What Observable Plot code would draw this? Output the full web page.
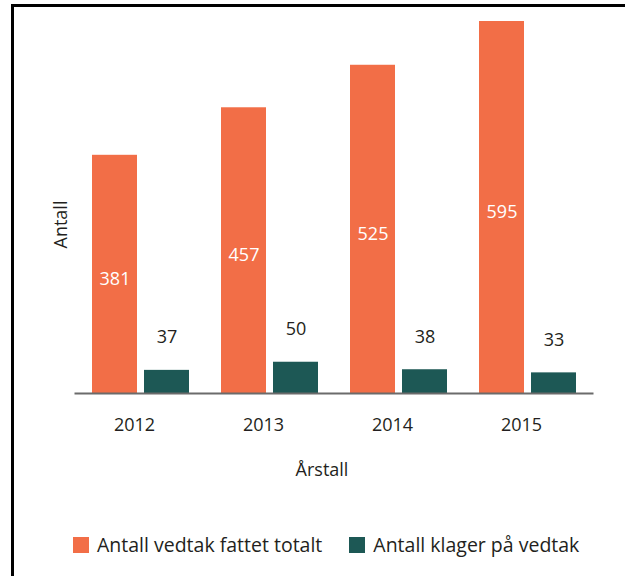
<!DOCTYPE html>
<html>
<head>
<meta charset="utf-8">
<script src="https://cdn.jsdelivr.net/npm/d3@7"></script>
<script src="https://cdn.jsdelivr.net/npm/@observablehq/plot@0.6"></script>
<style>
  html, body { margin: 0; padding: 0; background: #fff; }
  #wrap { position: relative; width: 625px; height: 576px; overflow: hidden; font-family: "Open Sans", sans-serif; color: #231f20; }
  #border { position: absolute; left: 11px; top: 4px; width: 700px; height: 700px; border-left: 3px solid #000; border-top: 3px solid #000; }
  #chart { position: absolute; left: 0; top: 0; }
  #legend { position: absolute; left: 73px; top: 531px; display: flex; align-items: center; font-size: 19.5px; }
  .item { display: flex; align-items: center; margin-right: 27px; }
  .sw { width: 16px; height: 16px; margin-right: 8px; }
</style>
</head>
<body>
<div id="wrap">
  <div id="border"></div>
  <div id="chart"></div>
  <div id="legend"></div>
</div>
<script>
const years = ["2012", "2013", "2014", "2015"];
const seriesNames = ["Antall vedtak fattet totalt", "Antall klager på vedtak"];
const totalt = [381, 457, 525, 595];
const klager = [37, 50, 38, 33];
const colors = ["#F26E47", "#1D5855"];
const xTitle = "Årstall";
const yTitle = "Antall";

const data = years.flatMap((yr, i) => [
  {year: yr, series: seriesNames[0], value: totalt[i]},
  {year: yr, series: seriesNames[1], value: klager[i]}
]);

const ink = "#231f20";

const chart = Plot.plot({
  width: 625,
  height: 500,
  marginLeft: 74,
  marginRight: 33,
  marginTop: 21,
  marginBottom: 107,
  style: {fontFamily: "Open Sans, sans-serif", fontSize: "18px", color: ink, background: "transparent"},
  fx: {domain: years, paddingInner: 0.243, paddingOuter: 0.121, label: null},
  x: {domain: seriesNames, paddingInner: 0.14, paddingOuter: 0, axis: null},
  y: {domain: [0, 595], axis: null},
  color: {domain: seriesNames, range: colors},
  marks: [
    Plot.barY(data, {fx: "year", x: "series", y: "value", fill: "series"}),
    Plot.text(data.filter(d => d.series === seriesNames[0]), {
      fx: "year", x: "series", y: d => d.value / 2, text: d => String(d.value),
      fill: "white", lineAnchor: "middle", dy: 5, fontSize: 18
    }),
    Plot.text(data.filter(d => d.series === seriesNames[1]), {
      fx: "year", x: "series", y: "value", text: d => String(d.value),
      fill: ink, lineAnchor: "middle", dy: -33, fontSize: 18
    }),
    Plot.frame({anchor: "bottom", facet: "super", stroke: "#6b6b6b", strokeWidth: 2, insetLeft: -16, insetRight: -16}),
    Plot.axisFx({anchor: "bottom", tickSize: 0, tickPadding: 25, dx: -6, label: null, fontSize: 18, fill: ink}),
    Plot.text([xTitle], {frameAnchor: "bottom", dy: 77, dx: -12, lineAnchor: "middle", facet: "super", fill: ink, fontSize: 18}),
    Plot.text([yTitle], {frameAnchor: "left", rotate: -90, dx: -30, dy: 17, textAnchor: "middle", lineAnchor: "middle", facet: "super", fill: ink, fontSize: 18})
  ]
});
document.getElementById("chart").appendChild(chart);

const legend = document.getElementById("legend");
seriesNames.forEach((name, i) => {
  const item = document.createElement("div");
  item.className = "item";
  const sw = document.createElement("span");
  sw.className = "sw";
  sw.style.background = colors[i];
  const label = document.createElement("span");
  label.textContent = name;
  item.appendChild(sw);
  item.appendChild(label);
  legend.appendChild(item);
});
</script>
</body>
</html>
